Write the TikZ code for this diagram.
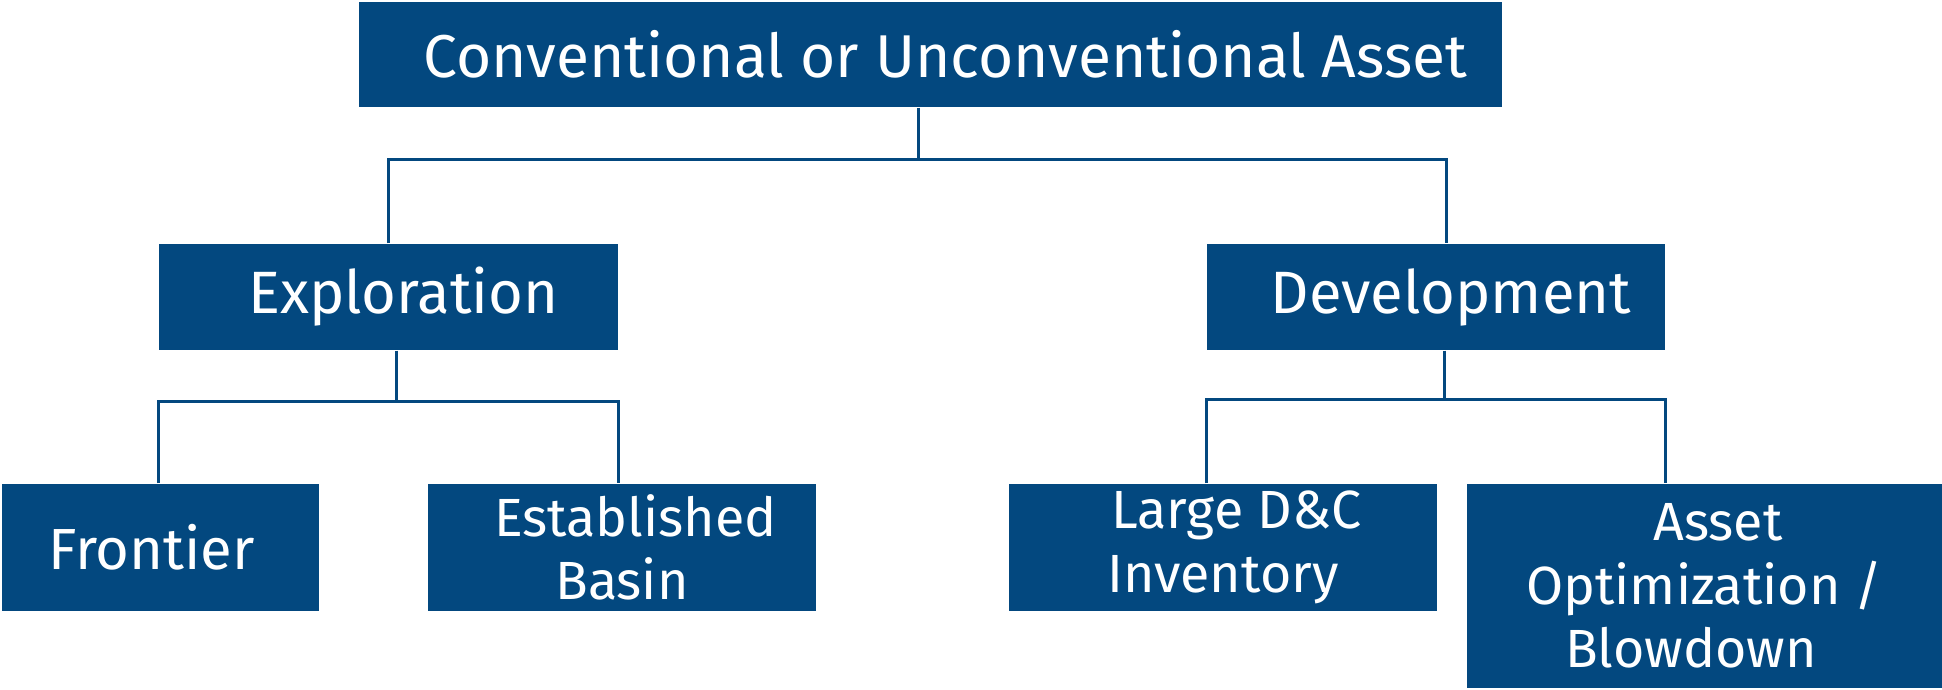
\documentclass[tikz,border=0pt]{standalone}
\usepackage{fontspec}
\setmainfont{Fira Sans}
\usetikzlibrary{positioning}

\definecolor{assetblue}{HTML}{03487F}
\newcommand\lead{\hspace*{.5em}}

\begin{document}
\begin{tikzpicture}[
    box/.style={fill=assetblue, text=white, inner sep=0pt, align=center},
    top/.style={font=\fontsize{17.2}{21}\selectfont},
    mid/.style={font=\fontsize{17}{20}\selectfont},
    low/.style={font=\fontsize{15.3}{18.1}\selectfont},
    link/.style={draw=assetblue, line width=0.85pt}]
\useasboundingbox (0,0) rectangle (19.42,-6.89);

% Boxes
\path (9.305,-0.545) node[box, top, minimum width=11.43cm, minimum height=1.05cm] (asset) {\lead Conventional or Unconventional Asset}
      (3.885,-2.97)  node[box, mid, minimum width=4.59cm, minimum height=1.06cm] (explore) {\lead Exploration}
      (14.36,-2.97)  node[box, mid, minimum width=4.58cm, minimum height=1.06cm] (devel) {\lead Development};

\path (1.605,-5.475) node[box, low, font=\fontsize{16.5}{19}\selectfont, minimum width=3.17cm, minimum height=1.27cm] (frontier) {Frontier\hspace*{.3em}}
      (6.22,-5.475)  node[box, low, minimum width=3.88cm, minimum height=1.27cm] (basin) {\lead Established\\Basin}
      (12.23,-5.475) node[box, low, minimum width=4.28cm, minimum height=1.27cm] (inventory) {\lead Large D\&C\\Inventory}
      (17.045,-5.86) node[box, low, minimum width=4.75cm, minimum height=2.04cm] (blowdown) {\lead Asset\\Optimization /\\Blowdown\lead};

% Bars
\coordinate (topbar) at (0,-1.595);
\coordinate (explbar) at (0,-4.01);
\coordinate (devbar) at (0,-3.99);

% Links
\draw[link] ([xshift=-1.25mm]asset.south) -- ([xshift=-1.25mm]asset.south |- topbar);
\draw[link] (explore.north) |- ([xshift=1mm]devel.north |- topbar) -- ([xshift=1mm]devel.north);

\draw[link] ([xshift=.8mm]explore.south) -- ([xshift=.8mm]explore.south |- explbar);
\draw[link] (explore.west |- frontier.north) |- (explore.east |- explbar) -- (explore.east |- basin.north);

\draw[link] ([xshift=.8mm]devel.south) -- ([xshift=.8mm]devel.south |- devbar);
\draw[link] (devel.west |- inventory.north) |- (devel.east |- devbar) -- (devel.east |- blowdown.north);

\end{tikzpicture}
\end{document}
